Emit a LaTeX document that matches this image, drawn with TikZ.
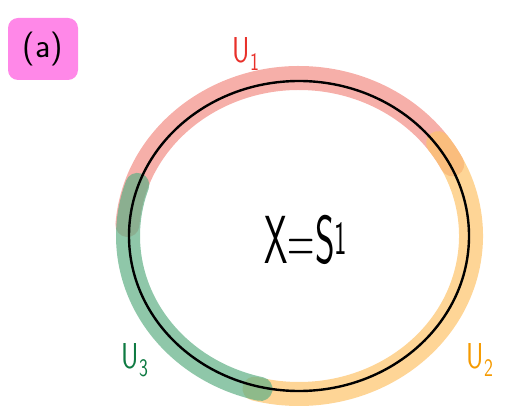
\documentclass[tikz,border=0pt]{standalone}
\usetikzlibrary{positioning}
\definecolor{redband}{HTML}{F28D85}
\definecolor{orangeband}{HTML}{FDC36A}
\definecolor{greenband}{HTML}{5FAF85}
\definecolor{redtext}{HTML}{E8302A}
\definecolor{orangetext}{HTML}{F59A00}
\definecolor{greentext}{HTML}{0E7A42}
\definecolor{tagpink}{HTML}{FF88E8}
\begin{document}
\begin{tikzpicture}[
	x=1pt, y=1pt,
	band/.style={ line width=24pt, line cap=round, opacity=0.7 },
	setlabel/.style={ font=\sffamily\fontsize{36}{40}\selectfont, xscale=0.75 }
]
\useasboundingbox (0,0) rectangle (505,410);

% tag
\node at (43,361) (tag) [fill=tagpink, rounded corners=10pt, minimum width=70pt, minimum height=62pt,
	font=\sffamily\fontsize{34}{38}\selectfont] {(a)};

% open sets
\coordinate (c) at (299,174);
\draw[band, redband] (c) ++(176:172pt and 158pt) arc[start angle=176, end angle=27, x radius=172pt, y radius=158pt];
\draw[band, orangeband] (c) ++(36:172pt and 158pt) arc[start angle=36, end angle=-105, x radius=172pt, y radius=158pt];
\draw[band, greenband] (c) ++(161:171pt and 157pt) arc[start angle=161, end angle=257, x radius=171pt, y radius=157pt];

% the circle
\draw[line width=2.4pt] (c) ellipse[x radius=170pt, y radius=155pt];

\node at (246,356) (uone) [setlabel, text=redtext] {U\textsubscript{1}};
\node at (480,50) (utwo) [setlabel, text=orangetext] {U\textsubscript{2}};
\node at (135,50) (uthree) [setlabel, text=greentext] {U\textsubscript{3}};
\node at (306,170) (space) [font=\sffamily\fontsize{68}{74}\selectfont, xscale=0.55] {X=S\textsuperscript{1}};

\end{tikzpicture}
\end{document}
